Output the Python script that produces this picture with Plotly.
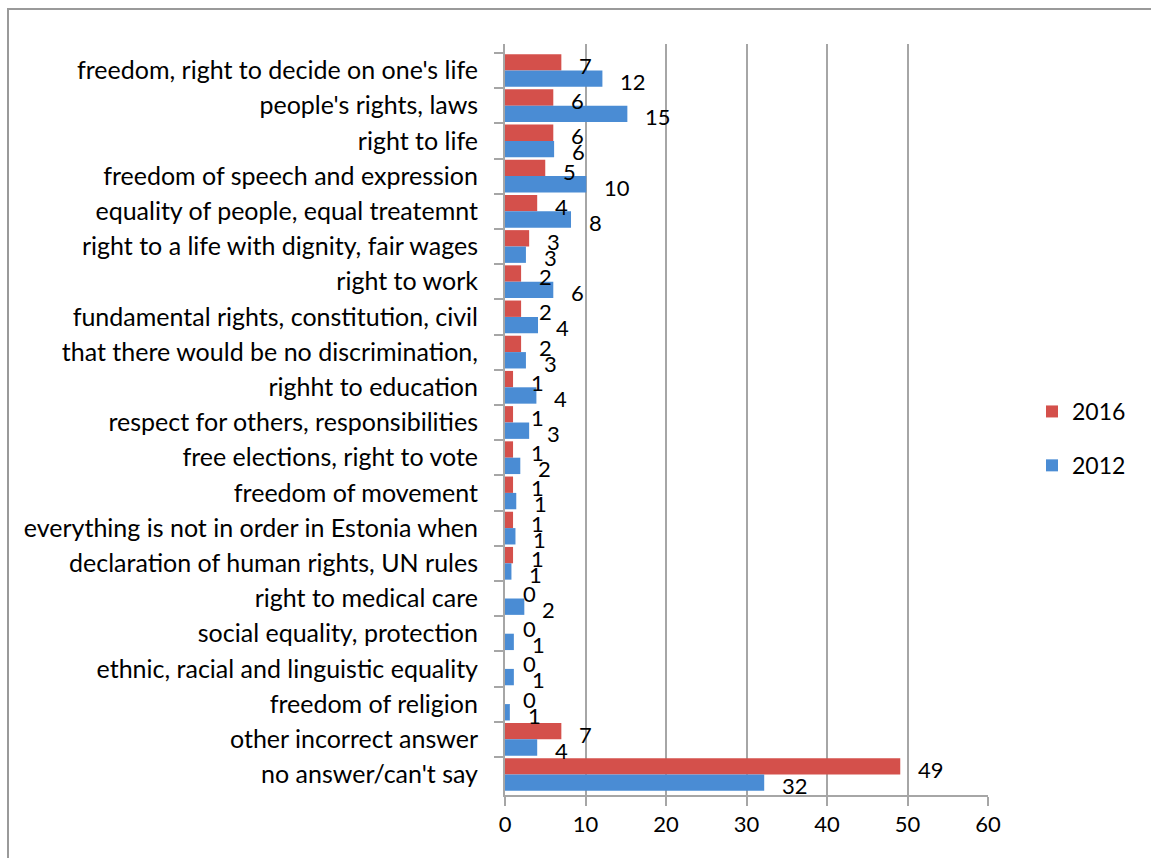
import plotly.graph_objects as go

# Survey answers (share of respondents, %)
categories = [
    "freedom, right to decide on one's life",
    "people's rights, laws",
    "right to life",
    "freedom of speech and expression",
    "equality of people, equal treatemnt",
    "right to a life with dignity, fair wages",
    "right to work",
    "fundamental rights, constitution, civil",
    "that there would be no discrimination,",
    "righht to education",
    "respect for others, responsibilities",
    "free elections, right to vote",
    "freedom of movement",
    "everything is not in order in Estonia when",
    "declaration of human rights, UN rules",
    "right to medical care",
    "social equality, protection",
    "ethnic, racial and linguistic equality",
    "freedom of religion",
    "other incorrect answer",
    "no answer/can't say",
]
values_2016 = [7.0, 6.0, 6.0, 5.0, 4.0, 3.0, 2.0, 2.0, 2.0, 1.0, 1.0,
               1.0, 1.0, 1.0, 1.0, 0.0, 0.0, 0.0, 0.0, 7.0, 49.1]
values_2012 = [12.1, 15.2, 6.1, 10.1, 8.2, 2.6, 6.0, 4.1, 2.6, 3.9, 3.0,
               1.9, 1.4, 1.3, 0.8, 2.4, 1.1, 1.1, 0.6, 4.0, 32.2]
x_ticks = [0, 10, 20, 30, 40, 50, 60]

FONT = "Lato"
RED = "#d4504b"
BLUE = "#4a8cd4"
GRID = "#a6a6a6"

W, H = 1151, 858
L, R, T, B = 505, 163, 44, 63
pw, ph = W - L - R, H - T - B


def px_x(p):
    return (p - L) / pw


def px_y(p):
    return (H - B - p) / ph


fig = go.Figure()
fig.add_trace(go.Bar(
    name="2016", y=categories, x=values_2016, orientation="h",
    marker=dict(color=RED, line=dict(width=0)), legendgroup="a",
))
fig.add_trace(go.Bar(
    name="2012", y=categories, x=values_2012, orientation="h",
    marker=dict(color=BLUE, line=dict(width=0)), legendgroup="b",
))

# value labels just past each bar end
for vals, dy in ((values_2016, 5), (values_2012, -11)):
    for cat, v in zip(categories, vals):
        fig.add_annotation(
            x=v, y=cat, text=f"{v:.0f}", showarrow=False,
            xanchor="left", yanchor="middle", xshift=16, yshift=dy,
            font=dict(family=FONT, size=22, color="#000"),
        )

# outer chart frame
fig.add_shape(
    type="rect", xref="paper", yref="paper",
    x0=px_x(8), x1=px_x(1175), y0=px_y(9), y1=px_y(880),
    line=dict(color="#9a9a9a", width=2), fillcolor="rgba(0,0,0,0)",
    layer="below",
)

fig.update_layout(
    width=W, height=H,
    margin=dict(l=L, r=R, t=T, b=B, pad=0),
    paper_bgcolor="white", plot_bgcolor="white",
    barmode="group", bargap=0.07, bargroupgap=0,
    font=dict(family=FONT, size=20, color="#000"),
    showlegend=True,
    legend=dict(
        x=px_x(1032), y=px_y(390), xanchor="left", yanchor="top",
        traceorder="grouped", tracegroupgap=21,
        font=dict(family=FONT, size=23), bgcolor="rgba(0,0,0,0)",
    ),
    xaxis=dict(
        range=[0, 60], tickvals=x_ticks, ticktext=[str(t) for t in x_ticks],
        showgrid=True, gridcolor=GRID, gridwidth=1.5,
        showline=True, linecolor=GRID, linewidth=2,
        ticks="outside", ticklen=9, tickcolor=GRID, tickwidth=2,
        zeroline=False, tickfont=dict(family=FONT, size=22),
        fixedrange=True,
    ),
    yaxis=dict(
        type="category", autorange="reversed",
        showline=True, linecolor=GRID, linewidth=2,
        ticks="outside", ticklen=9, tickcolor=GRID, tickwidth=2,
        tickson="boundaries", showgrid=False,
        ticklabelstandoff=20,
        tickfont=dict(family=FONT, size=25),
        fixedrange=True,
    ),
)

fig.write_html("out.html")
